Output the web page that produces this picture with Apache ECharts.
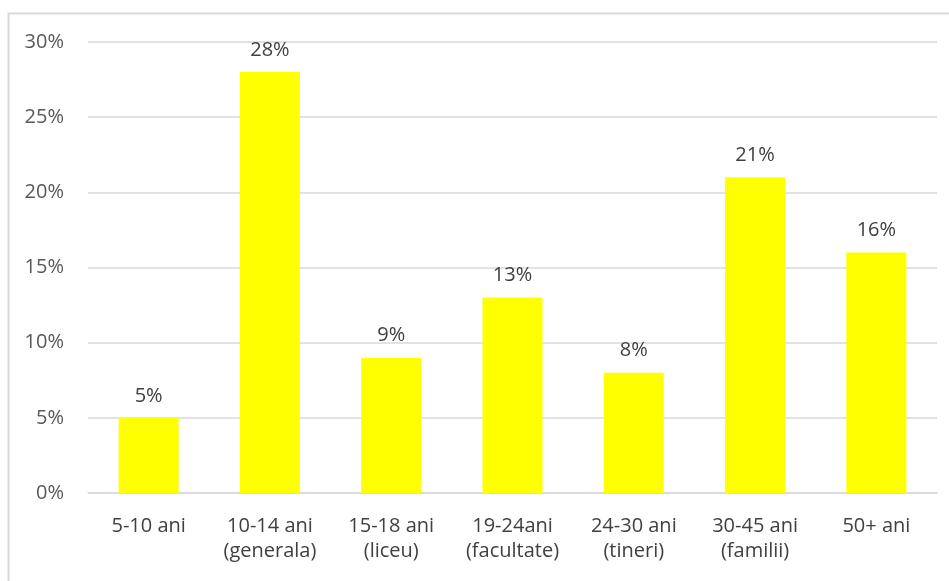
<!DOCTYPE html>
<html><head><meta charset="utf-8">
<script src="https://cdn.jsdelivr.net/npm/echarts@6/dist/echarts.min.js"></script>
<style>html,body{margin:0;padding:0;background:#fff}#c{width:949px;height:581px}</style>
</head><body><div id="c"></div>
<script>
var categories = ['5-10 ani', '10-14 ani\n(generala)', '15-18 ani\n(liceu)', '19-24ani\n(facultate)', '24-30 ani\n(tineri)', '30-45 ani\n(familii)', '50+ ani'];
var values = [5, 28, 9, 13, 8, 21, 16];
var yTicks = [0, 5, 10, 15, 20, 25, 30];

var chart = echarts.init(document.getElementById('c'));
var font = 'Open Sans';
chart.setOption({
  animation: false,
  graphic: [{
    type: 'rect', shape: {x: 8.5, y: 13.5, width: 960, height: 600},
    style: {fill: 'none', stroke: '#d9d9d9', lineWidth: 2}, z: -1
  }],
  grid: {left: 88, right: 12, top: 42, bottom: 88, containLabel: false},
  xAxis: {
    type: 'category', data: categories,
    axisLine: {lineStyle: {color: '#d9d9d9', width: 1.5}},
    axisTick: {show: false},
    axisLabel: {color: '#404040', fontFamily: font, fontSize: 20, lineHeight: 25, margin: 21, interval: 0}
  },
  yAxis: {
    type: 'value', min: yTicks[0], max: yTicks[yTicks.length - 1], interval: 5,
    axisLine: {show: false}, axisTick: {show: false},
    splitLine: {lineStyle: {color: '#d9d9d9', width: 1.5}},
    axisLabel: {color: '#595959', fontFamily: font, fontSize: 20, margin: 24, formatter: '{value}%'}
  },
  series: [{
    type: 'bar', data: values, barWidth: 60,
    itemStyle: {color: '#ffff00'},
    label: {show: true, position: 'top', distance: 12, color: '#404040', fontFamily: font, fontSize: 20, formatter: '{c}%'}
  }]
});
</script></body></html>
